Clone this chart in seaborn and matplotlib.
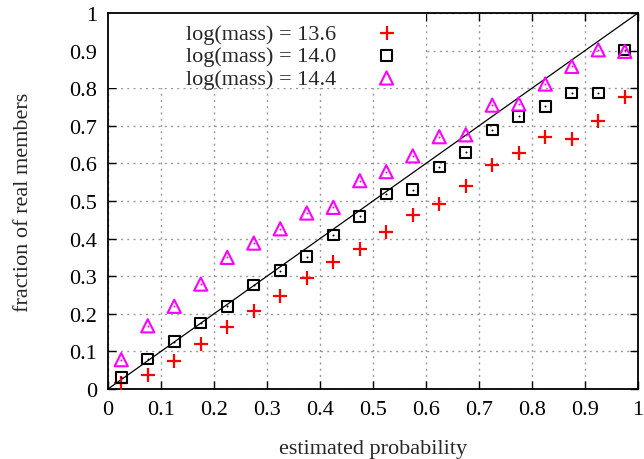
import matplotlib
matplotlib.use("Agg")
import matplotlib.pyplot as plt
import numpy as np
import pandas as pd
import seaborn as sns
from matplotlib.patches import Rectangle

# bin centres of estimated probability
prob = [0.025, 0.075, 0.125, 0.175, 0.225, 0.275, 0.325, 0.375, 0.425, 0.475,
        0.525, 0.575, 0.625, 0.675, 0.725, 0.775, 0.825, 0.875, 0.925, 0.975]

# fraction of real members per mass bin
frac_136 = [0.016, 0.037, 0.075, 0.120, 0.166, 0.208, 0.248, 0.294, 0.339, 0.372,
            0.418, 0.463, 0.492, 0.539, 0.597, 0.627, 0.669, 0.665, 0.712, 0.777]
frac_140 = [0.031, 0.080, 0.126, 0.175, 0.220, 0.277, 0.315, 0.352, 0.410, 0.459,
            0.519, 0.530, 0.590, 0.629, 0.689, 0.725, 0.752, 0.787, 0.787, 0.902]
frac_144 = [0.078, 0.168, 0.220, 0.279, 0.350, 0.388, 0.426, 0.468, 0.483, 0.554,
            0.578, 0.620, 0.671, 0.676, 0.755, 0.758, 0.811, 0.858, 0.902, 0.898]

labels = ["log(mass) = 13.6", "log(mass) = 14.0", "log(mass) = 14.4"]
ticks = np.round(np.arange(0, 1.01, 0.1), 1)
tick_labels = ["0", "0.1", "0.2", "0.3", "0.4", "0.5", "0.6", "0.7", "0.8", "0.9", "1"]

df = pd.DataFrame({"prob": prob, "m136": frac_136, "m140": frac_140, "m144": frac_144})

sns.set_style("ticks")
plt.rcParams["font.family"] = ["Liberation Serif", "DejaVu Serif"]

FS = 16

fig = plt.figure(figsize=(6.44, 4.60), dpi=100)
ax = fig.add_axes([0.1677, 0.1522, 0.8230, 0.8174])

ax.set_xlim(0, 1)
ax.set_ylim(0, 1)
ax.set_xticks(ticks)
ax.set_yticks(ticks)
ax.set_xticklabels(tick_labels, fontsize=FS)
ax.set_yticklabels(tick_labels, fontsize=FS)
ax.tick_params(direction="in", length=6, width=1, top=True, right=True, pad=8,
               colors="black")
ax.grid(True, color="#9a9a9a", linestyle=(0, (1.5, 3)), linewidth=1)
ax.set_axisbelow(True)
for sp in ax.spines.values():
    sp.set_linewidth(1.3)
    sp.set_color("black")

# blank key area (gnuplot style)
ax.add_patch(Rectangle((0, 0.8), 0.6, 0.2, transform=ax.transAxes,
                       facecolor="white", edgecolor="none", zorder=1))

# diagonal reference line
ax.axline((0, 0), slope=1, color="black", linewidth=0.9, zorder=2)

sns.scatterplot(data=df, x="prob", y="m136", marker="+", s=90, color="red",
                linewidth=1.6, ax=ax, zorder=3, label=labels[0])
sns.scatterplot(data=df, x="prob", y="m140", marker="s", s=58, facecolor="none",
                edgecolor="black", linewidth=1.5, ax=ax, zorder=3, label=labels[1])
sns.scatterplot(data=df, x="prob", y="m140", marker="o", s=2, color="black",
                linewidth=0, ax=ax, zorder=4)
sns.scatterplot(data=df, x="prob", y="m144", marker="^", s=90, facecolor="none",
                edgecolor="#ff00ff", linewidth=1.5, ax=ax, zorder=3, label=labels[2])
sns.scatterplot(data=df, x="prob", y="m144", marker="o", s=2, color="#ff00ff",
                linewidth=0, ax=ax, zorder=4)

leg = ax.legend(loc="upper left", bbox_to_anchor=(0.11, 1.025), frameon=False,
                markerfirst=False, fontsize=FS, handletextpad=1.5,
                labelspacing=0.08, handlelength=1.5)

ax.set_xlabel("estimated probability", fontsize=FS, labelpad=14)
ax.set_ylabel("fraction of real members", fontsize=FS, labelpad=26)

fig.savefig("out.png", dpi=100)
